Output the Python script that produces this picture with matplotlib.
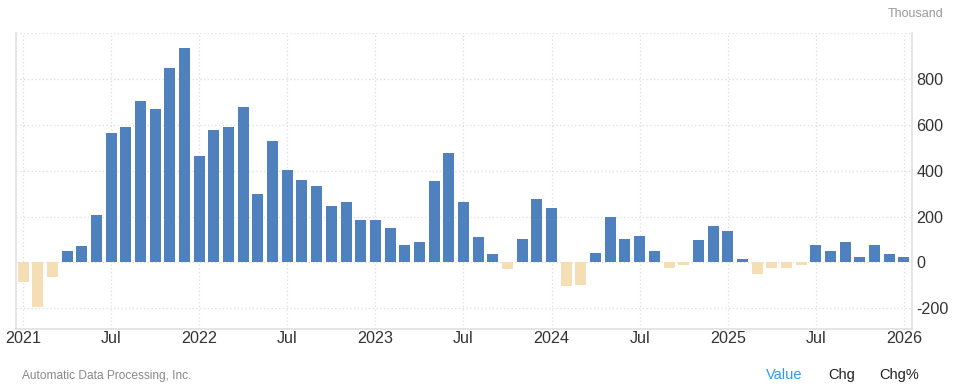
import matplotlib.pyplot as plt
import numpy as np

plt.rcParams['font.family'] = ['Liberation Sans', 'DejaVu Sans']

# monthly ADP employment change, Jan 2021 - Jan 2026 (thousand)
values = [
    -83, -194, -64, 48, 70, 209, 565, 591, 704, 670, 848, 935,
    465, 578, 591, 678, 300, 530, 404, 361, 335, 248, 265, 187,
    187, 148, 74, 91, 357, 478, 265, 113, 35, -30, 104, 278,
    239, -104, -100, 43, 200, 104, 117, 48, -22, -13, 100, 157,
    139, 13, -52, -22, -22, -13, 78, 48, 87, 22, 74, 35,
    22,
]
tick_pos = [0, 6, 12, 18, 24, 30, 36, 42, 48, 54, 60]
tick_labels = ['2021', 'Jul', '2022', 'Jul', '2023', 'Jul', '2024', 'Jul', '2025', 'Jul', '2026']
y_ticks = [-200, 0, 200, 400, 600, 800]

x = np.arange(len(values))
vals = np.array(values)
colors = np.where(vals >= 0, '#4e81bd', '#f5deb3')

fig = plt.figure(figsize=(9.58, 3.91), dpi=100)
ax = fig.add_axes([16 / 958, 62 / 391, 896 / 958, 296 / 391])

ax.bar(x, vals, width=0.75, color=colors, zorder=3)

ax.set_xlim(-0.48, 60.55)
ax.set_ylim(-290, 1000)

ax.set_xticks(tick_pos)
ax.set_xticklabels(tick_labels)
ax.set_yticks(y_ticks + [1000])
ax.set_yticklabels([str(v) for v in y_ticks] + [''])
ax.yaxis.tick_right()

ax.grid(True, color='#dddddd', linestyle=(0, (1, 2)), linewidth=0.9, zorder=0)
ax.tick_params(axis='both', length=0, labelsize=11.6, colors='#333333')
ax.tick_params(axis='x', pad=1.5)
ax.tick_params(axis='y', pad=3)

for side in ['left', 'right', 'bottom']:
    ax.spines[side].set_color('#e0e0e0')
    ax.spines[side].set_linewidth(1.2)
ax.spines['top'].set_visible(False)

fig.text(943 / 958, 1 - 14 / 391, 'Thousand', ha='right', va='center', fontsize=9, color='#999999')
fig.text(22 / 958, 1 - 376 / 391, 'Automatic Data Processing, Inc.', ha='left', va='center', fontsize=8.6, color='#888888')
fig.text(766 / 958, 1 - 375 / 391, 'Value', ha='left', va='center', fontsize=10.5, color='#3399ee')
fig.text(828 / 958, 1 - 375 / 391, 'Chg', ha='left', va='center', fontsize=10.5, color='#222222')
fig.text(879 / 958, 1 - 375 / 391, 'Chg%', ha='left', va='center', fontsize=10.5, color='#222222')

fig.savefig('out.png', dpi=100)
